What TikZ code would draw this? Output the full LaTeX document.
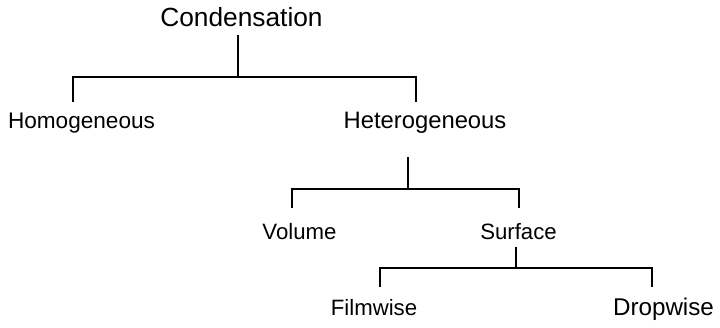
\documentclass[tikz,border=0pt]{standalone}
\usepackage{fontspec}
\setmainfont{Liberation Sans}
\begin{document}
\begin{tikzpicture}[x=1pt,y=-1pt,
  lbl/.style={anchor=base,inner sep=0pt,font=\fontsize{22.2}{26}\selectfont},
  conn/.style={line width=2.2pt,line join=miter,line cap=rect}]
\useasboundingbox (0,0) rectangle (720,327);
\node[lbl,font=\fontsize{26.3}{30}\selectfont] (cond) at (241.5,26) {Condensation};
\node[lbl,font=\fontsize{22.6}{26}\selectfont] (homo) at (81.5,128) {Homogeneous};
\node[lbl,font=\fontsize{23.8}{28}\selectfont] (hetero) at (425,128) {Heterogeneous};
\node[lbl] (vol) at (299.5,239) {Volume};
\node[lbl] (surf) at (518.5,239) {Surface};
\node[lbl] (film) at (374,315) {Filmwise};
\node[lbl,font=\fontsize{24.2}{28}\selectfont] (drop) at (663.5,315) {Dropwise};
% junction coordinates
\coordinate (c1) at (238,36);
\coordinate (j1) at (238,77);
\coordinate (a1) at (73,77);
\coordinate (b1) at (416,77);
\coordinate (a1e) at (73,101);
\coordinate (b1e) at (416,101);
\coordinate (c2) at (408,158);
\coordinate (j2) at (408,189);
\coordinate (a2) at (292,189);
\coordinate (b2) at (519,189);
\coordinate (a2e) at (292,207);
\coordinate (b2e) at (519,207);
\coordinate (c3) at (516,248);
\coordinate (j3) at (516,268);
\coordinate (a3) at (380,268);
\coordinate (b3) at (652,268);
\coordinate (a3e) at (380,286);
\coordinate (b3e) at (652,286);
\draw[conn] (c1) -- (j1);
\draw[conn] (a1e) -- (a1) -- (b1) -- (b1e);
\draw[conn] (c2) -- (j2);
\draw[conn] (a2e) -- (a2) -- (b2) -- (b2e);
\draw[conn] (c3) -- (j3);
\draw[conn] (a3e) -- (a3) -- (b3) -- (b3e);
\end{tikzpicture}
\end{document}
